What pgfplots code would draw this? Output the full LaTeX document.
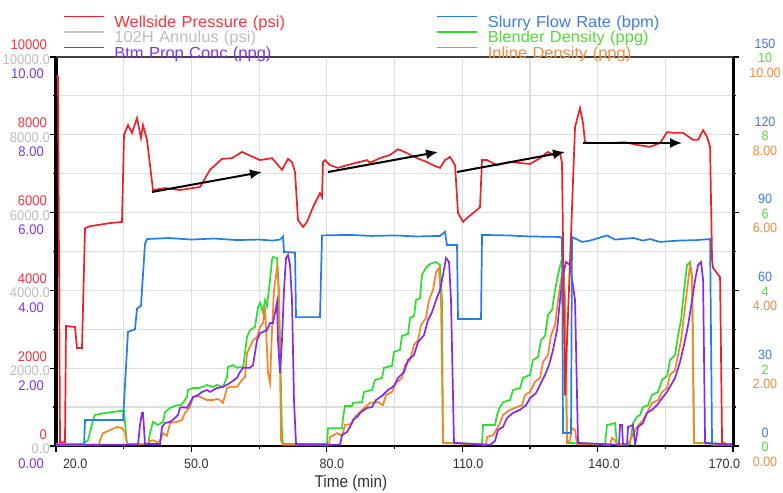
\documentclass[border=0pt]{standalone}
\usepackage{pgfplots}
\usepackage{pgfplotstable}
\pgfplotsset{compat=1.18}
\usepackage{fontspec}
\setmainfont{Liberation Sans}
\newfontfamily\tickfont[FakeStretch=0.93]{Liberation Sans}
\newfontfamily\legfont[FakeStretch=1.03]{Liberation Sans}
\newfontfamily\labfont[FakeStretch=0.9]{Liberation Sans}
\usetikzlibrary{arrows.meta}
\definecolor{cRed}{RGB}{238,32,40}
\definecolor{cBlue}{RGB}{35,125,235}
\definecolor{cGreen}{RGB}{40,225,40}
\definecolor{cOrange}{RGB}{250,130,40}
\definecolor{cPurple}{RGB}{135,40,235}
\definecolor{cGray}{RGB}{195,195,195}
\definecolor{tRed}{RGB}{245,55,65}
\definecolor{tGray}{RGB}{190,190,190}
\definecolor{tPurp}{RGB}{125,55,235}
\definecolor{tBlue}{RGB}{65,125,235}
\definecolor{tGreen}{RGB}{85,220,55}
\definecolor{tOrange}{RGB}{245,140,65}
\newcommand{\lstack}[3]{\begin{tabular}{@{}r@{}}\textcolor{tRed}{#1}\hspace*{3bp}\\\textcolor{tGray}{#2}\\\textcolor{tPurp}{#3}\hspace*{6bp}\end{tabular}}
\newcommand{\rstack}[3]{\begin{tabular}{@{}c@{}}\textcolor{tBlue}{#1}\\\textcolor{tGreen}{#2}\\\textcolor{tOrange}{#3}\end{tabular}}

\pgfplotstableread{
t psi
20.00 9500
20.44 9500
20.89 100
21.99 100
22.22 3085
24.21 3060
24.65 2520
25.76 2520
26.43 5600
27.53 5650
31.96 5730
34.62 5760
35.07 8000
35.95 8250
36.84 8050
37.95 8430
38.83 7920
39.28 8250
40.16 7870
41.49 6580
44.15 6630
47.47 6580
51.91 6660
54.12 7100
56.78 7380
59.00 7400
61.21 7560
63.65 7430
65.20 7350
67.86 7400
70.07 7100
71.40 7380
72.29 7300
72.96 7040
73.62 5810
74.73 5630
75.61 5760
76.94 6140
78.49 6500
78.94 6400
79.16 7300
79.60 7350
80.71 7220
82.48 7150
84.48 7220
88.91 7350
89.57 7280
91.79 7400
94.00 7480
95.78 7630
97.77 7530
99.99 7400
102.20 7300
103.53 7220
105.08 7150
106.19 7350
107.30 7430
108.41 7220
109.07 5990
110.18 5760
111.06 5860
113.28 6070
113.94 6140
114.39 7350
115.50 7350
117.71 7220
120.59 7300
125.02 7250
127.24 7400
129.01 7560
130.12 7480
131.67 7530
132.11 7280
132.78 1300
135.00 8200
136.10 8690
136.77 8300
137.21 7810
138.32 7790
142.75 7790
146.07 7810
148.74 7740
151.61 7690
153.83 7790
155.39 8070
156.72 8050
158.94 8050
161.15 7870
162.26 7870
163.37 8120
164.26 7940
164.92 7690
165.36 4780
165.58 4580
167.13 4340
167.58 80
168.50 60
}\pressure

\pgfplotstableread{
t bpm
20.00 0
26.20 0
26.43 10.0
34.62 10.0
34.85 10.0
35.95 44
37.50 45
37.95 53
38.83 54
39.72 78
40.16 79.8
45.00 80.2
50.00 79.6
55.00 80.0
60.00 79.4
65.00 79.6
68.00 79.2
69.63 79.6
70.30 80.8
70.52 74.8
72.96 74.6
73.18 49.7
78.49 49.7
78.94 81.2
85.00 81.4
90.00 81.0
95.00 81.2
100.00 80.8
105.08 81.0
106.19 82.6
106.63 77.5
108.85 77.5
109.07 49.0
114.17 49.0
114.39 81.4
120.00 81.2
125.00 80.8
131.67 80.6
132.11 80.2
132.34 5
134.11 5
134.33 80.6
136.55 78.7
138.32 79.2
142.09 81.2
143.86 79.6
148.00 80.2
150.00 79.2
151.61 79.8
153.83 78.7
158.00 79.2
162.00 79.4
164.92 79.8
165.36 0
170.00 0
}\flow

\pgfplotstableread{
t ppg
20.00 0.05
25.98 0.05
27.09 0.15
28.20 0.67
28.64 0.80
30.86 0.85
34.18 0.90
35.07 0.90
35.73 0.05
40.38 0.05
40.83 0.33
41.49 0.62
42.60 0.54
43.04 0.57
43.71 0.62
44.15 0.87
45.26 0.98
46.81 1.05
47.70 1.05
48.14 1.11
49.03 1.26
49.25 1.44
50.36 1.49
51.47 1.49
52.57 1.52
53.46 1.57
54.79 1.52
55.67 1.57
57.00 1.52
57.89 1.77
58.11 2.03
59.22 2.08
60.10 2.01
60.77 2.03
61.43 2.01
61.88 2.39
62.32 2.80
62.98 2.98
64.09 3.06
64.76 3.57
65.20 3.68
65.86 3.42
66.31 3.75
66.75 3.60
67.42 4.27
67.86 4.78
68.08 4.86
68.97 4.83
69.19 4.45
69.63 2.72
70.07 0.33
70.30 0.05
80.05 0.05
80.27 0.46
83.37 0.46
83.59 0.72
84.03 1.03
85.58 1.03
85.81 1.11
87.80 1.13
88.24 1.39
90.02 1.44
90.68 1.70
92.23 1.75
92.67 2.01
94.45 2.06
94.89 2.42
96.22 2.47
96.66 2.83
97.99 2.88
98.44 3.29
99.32 3.34
99.77 3.75
100.65 3.80
101.09 4.40
101.98 4.58
102.87 4.68
104.20 4.73
105.08 4.65
105.53 3.75
105.75 0.08
114.39 0.05
114.61 0.54
117.27 0.54
117.71 0.80
118.38 1.00
119.04 1.13
120.59 1.18
121.26 1.44
122.81 1.49
123.47 1.75
125.02 1.83
125.69 2.21
126.80 2.29
127.46 2.72
128.35 2.83
129.01 3.37
129.90 3.50
130.57 4.01
131.23 4.40
131.89 4.73
132.34 4.83
132.78 3.75
133.22 0.08
141.64 0.05
142.09 0.54
143.86 0.59
144.30 0.05
147.18 0.05
147.85 0.59
148.74 0.75
149.40 0.80
150.06 1.00
151.17 1.05
152.06 1.31
153.39 1.39
154.28 1.70
155.39 1.80
156.05 2.21
157.16 2.34
157.83 2.85
158.49 3.24
159.16 4.01
159.82 4.65
160.49 4.73
160.93 4.27
161.37 0.08
170.00 0.05
}\blender

\pgfplotstableread{
t ppg
20.00 0.03
29.53 0.03
29.75 0.15
30.41 0.33
31.96 0.41
33.52 0.49
34.62 0.46
35.29 0.36
35.73 0.05
40.60 0.05
40.83 0.13
41.49 0.15
42.38 0.10
43.04 0.13
43.71 0.33
44.59 0.26
45.26 0.59
46.81 0.62
47.92 0.67
48.58 0.85
49.69 1.00
50.36 1.26
51.24 1.29
51.91 1.26
52.57 1.23
53.46 1.18
54.79 1.18
55.67 1.21
56.34 1.18
57.00 1.11
57.89 1.49
58.55 1.52
60.10 1.52
61.21 1.70
61.88 1.77
62.32 2.39
62.98 2.55
63.65 2.72
64.54 2.80
65.20 3.06
65.86 3.16
66.31 3.57
66.75 2.47
66.97 1.88
67.42 1.62
67.86 2.98
68.30 4.01
68.97 4.58
69.41 4.01
69.85 0.15
70.30 0.03
80.49 0.03
80.71 0.23
82.26 0.33
83.37 0.26
84.03 0.54
85.58 0.57
86.25 0.75
87.36 0.87
88.46 1.00
89.57 1.11
91.35 1.13
92.45 1.05
93.12 1.31
94.45 1.39
95.33 1.62
96.66 1.75
97.33 2.08
98.44 2.21
99.32 2.60
100.21 2.72
100.87 3.11
101.98 3.29
102.64 3.75
103.53 4.01
104.20 4.47
104.86 4.58
105.30 3.75
105.75 0.08
115.27 0.03
115.50 0.23
116.83 0.28
117.27 0.36
118.38 0.59
119.04 0.80
120.59 0.93
122.14 1.00
123.25 1.05
123.92 1.31
125.02 1.39
126.13 1.65
127.24 1.75
127.91 2.16
129.01 2.34
129.68 2.85
130.57 3.11
131.23 3.75
131.89 4.27
132.34 4.52
132.78 3.75
133.22 0.08
133.89 0.15
134.33 0.46
135.00 0.41
135.44 0.05
142.75 0.03
143.19 0.21
143.86 0.15
144.30 0.03
146.74 0.03
147.18 0.15
148.74 0.49
150.06 0.67
150.95 0.85
152.06 1.11
153.39 1.18
154.28 1.39
155.39 1.49
156.05 1.83
157.16 1.95
157.83 2.34
158.49 2.72
159.16 3.37
159.82 4.01
160.49 4.65
160.93 4.40
161.37 0.08
170.00 0.03
}\inline

\pgfplotstableread{
t ppg
20.00 0.03
38.17 0.03
38.61 0.54
39.06 0.85
39.28 0.85
39.72 0.05
43.04 0.05
43.49 0.49
44.15 0.59
45.26 0.62
45.92 0.67
47.03 0.80
47.47 0.98
48.14 1.00
49.03 0.98
49.69 1.11
50.36 1.26
51.24 1.29
52.35 1.39
53.46 1.44
54.12 1.39
55.67 1.49
57.00 1.52
58.55 1.62
60.10 1.75
60.77 1.90
61.43 2.01
62.98 2.01
63.65 2.08
64.54 2.72
65.20 2.90
66.75 2.98
67.42 3.16
68.08 3.16
68.97 3.70
69.19 2.72
69.63 1.88
70.07 2.72
70.52 4.01
70.96 4.83
71.40 4.91
71.85 4.65
72.29 3.75
72.73 1.18
73.18 0.05
82.93 0.03
83.37 0.28
84.48 0.36
85.14 0.49
85.81 0.67
86.91 0.77
87.36 0.85
88.91 0.98
90.02 1.00
90.90 1.18
92.23 1.29
93.56 1.44
94.89 1.54
95.78 1.75
97.11 1.90
97.99 2.21
99.32 2.34
100.21 2.67
101.53 2.85
102.42 3.24
103.31 3.44
104.20 3.75
105.08 4.01
105.75 4.40
106.41 4.83
107.08 4.73
107.52 3.75
108.18 0.08
116.16 0.03
117.27 0.13
117.93 0.41
119.04 0.49
119.93 0.72
121.26 0.85
122.81 0.93
124.14 1.05
125.02 1.23
126.35 1.36
127.24 1.57
128.35 1.83
129.24 2.08
130.12 2.47
131.01 2.98
131.67 3.75
132.34 4.40
133.00 4.73
133.89 4.65
135.00 3.75
135.66 0.08
144.74 0.03
144.97 0.54
145.41 0.54
145.63 0.03
146.52 0.03
146.74 0.49
147.85 0.54
148.29 0.05
148.51 0.15
148.96 0.49
150.06 0.59
150.95 0.85
152.06 0.93
153.17 1.05
154.28 1.23
155.39 1.39
156.27 1.57
157.16 1.75
158.27 2.16
159.16 2.60
160.05 3.11
160.93 3.75
161.60 4.27
162.26 4.65
162.92 4.73
163.37 4.27
163.81 0.08
170.00 0.03
}\btmprop

\pgfplotsset{common/.style={width=677bp, height=389bp, scale only axis,
  at={(56bp,47bp)}, anchor=south west, xmin=20, xmax=170}}

\begin{document}
\begin{tikzpicture}
\path[use as bounding box, fill=white] (0,0) rectangle (783bp,493bp);
% axis 1: densities, grid, x axis, left labels
\begin{axis}[common, ymin=0, ymax=10,
  axis x line*=bottom, axis y line*=left,
  x axis line style={line width=1.8bp, black},
  y axis line style={line width=3bp, black},
  xtick={20,50,80,110,140,170}, minor xtick={35,65,95,125,155},
  ytick={0,2,4,6,8,10}, minor ytick={1,3,5,7,9},
  grid=both,
  major grid style={draw=black!13, line width=1.2bp},
  minor grid style={draw=black!13, line width=1.2bp},
  tick align=outside, major tick length=6bp, minor tick length=3bp,
  tick style={black, line width=1.2bp},
  xticklabels={\makebox[0pt][l]{\hspace*{7bp}20.0},\makebox[0pt]{\hspace*{10bp}50.0},\makebox[0pt]{\hspace*{10bp}80.0},\makebox[0pt]{\hspace*{12bp}110.0},\makebox[0pt]{\hspace*{13bp}140.0},\makebox[0pt][r]{170.0\hspace*{-7bp}}},
  yticklabels={{\lstack{0}{0.0}{0.00}},{\lstack{2000}{2000.0}{2.00}},{\lstack{4000}{4000.0}{4.00}},{\lstack{6000}{6000.0}{6.00}},{\lstack{8000}{8000.0}{8.00}},{\lstack{10000}{10000.0}{10.00}}},
  xticklabel style={font=\tickfont\fontsize{13.5bp}{14bp}\selectfont, text=black!80, anchor=north, inner sep=0pt, yshift=-7bp},
  yticklabel style={font=\tickfont\fontsize{14bp}{14.5bp}\selectfont, anchor=east, inner sep=0pt, yshift=-4.6bp},
  xlabel={Time (min)},
  xlabel style={font=\labfont\fontsize{17bp}{17bp}\selectfont, text=black!80, at={(axis description cs:0.4357,0)}, anchor=north, inner sep=0pt, yshift=-29bp},
]
\addplot[cGreen, line width=1.7bp] table[x=t, y=ppg] {\blender};
\addplot[cOrange, line width=1.7bp] table[x=t, y=ppg] {\inline};
\addplot[cPurple, line width=1.7bp] table[x=t, y=ppg] {\btmprop};
\end{axis}
% axis 2: flow rate, right labels
\begin{axis}[common, ymin=0, ymax=150,
  axis x line=none, axis y line*=right,
  y axis line style={line width=3bp, black},
  ytick={0,30,60,90,120,150}, minor ytick={15,45,75,105,135},
  tick align=outside, major tick length=6bp, minor tick length=3bp,
  tick style={black, line width=1.2bp},
  yticklabels={{\rstack{0}{0}{0.00}},{\rstack{30}{2}{2.00}},{\rstack{60}{4}{4.00}},{\rstack{90}{6}{6.00}},{\rstack{120}{8}{8.00}},{\rstack{150}{10}{10.00}}},
  yticklabel style={font=\tickfont\fontsize{13.5bp}{14.5bp}\selectfont, anchor=center, inner sep=0pt, xshift=26bp, yshift=-3bp},
]
\addplot[cBlue, line width=1.7bp] table[x=t, y=bpm] {\flow};
\end{axis}
% axis 3: pressure, legend, annotations
\begin{axis}[common, ymin=0, ymax=10000, hide axis,
  legend columns=2, legend cell align=left,
  legend image code/.code={\draw[#1] (0bp,7.5bp) -- (40bp,7.5bp);},
  legend style={at={(axis description cs:0.01034,1.1054)}, anchor=north west,
    draw=none, fill=none, inner sep=0pt, outer sep=0pt,
    font=\legfont\fontsize{16bp}{16bp}\selectfont,
    nodes={inner sep=0pt, text height=10.5bp, text depth=4bp, text width=322bp},
    /tikz/every odd column/.append style={column sep=10bp}, row sep=0pt},
]
\addlegendimage{cRed, line width=1.4bp}
\addlegendentry{\textcolor{tRed}{Wellside Pressure (psi)}}
\addlegendimage{cBlue, line width=1.4bp}
\addlegendentry{\textcolor{tBlue}{Slurry Flow Rate (bpm)}}
\addlegendimage{cGray, line width=1.4bp}
\addlegendentry{\textcolor{tGray}{102H Annulus (psi)}}
\addlegendimage{cGreen, line width=1.4bp}
\addlegendentry{\textcolor{tGreen}{Blender Density (ppg)}}
\addlegendimage{cPurple, line width=1.4bp}
\addlegendentry{\textcolor{tPurp}{Btm Prop Conc (ppg)}}
\addlegendimage{cOrange, line width=1.4bp}
\addlegendentry{\textcolor{tOrange}{Inline Density (ppg)}}
\addplot[cRed, line width=1.7bp, forget plot] table[x=t, y=psi] {\pressure};
\draw[black, line width=2bp, -{Latex[length=12bp,width=10bp]}] (axis cs:41.27,6530) -- (axis cs:65.64,7044);
\draw[black, line width=2bp, -{Latex[length=12bp,width=10bp]}] (axis cs:80.27,7044) -- (axis cs:104.64,7558);
\draw[black, line width=2bp, -{Latex[length=12bp,width=10bp]}] (axis cs:108.85,7044) -- (axis cs:132.78,7558);
\draw[black, line width=2bp, -{Latex[length=12bp,width=10bp]}] (axis cs:136.77,7789) -- (axis cs:158.71,7789);
\draw[black!75, line width=1.5bp] (rel axis cs:0,1) -- (rel axis cs:1,1);
\end{axis}
\end{tikzpicture}
\end{document}
